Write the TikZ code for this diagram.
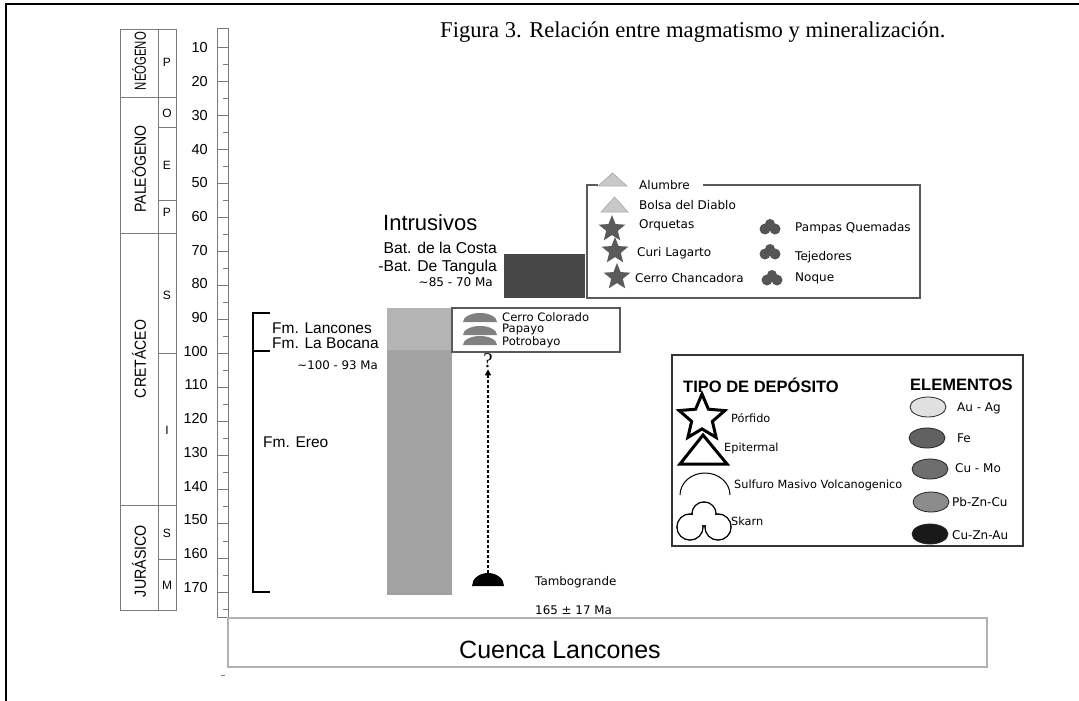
\documentclass[tikz,border=0pt]{standalone}
\usepackage{fontspec}
\setmainfont{Liberation Serif}
\setsansfont{Liberation Sans}
\newfontfamily\dejavu{DejaVu Sans}
\usetikzlibrary{shapes.geometric,arrows.meta}

\definecolor{rulegray}{HTML}{7A7A7A}
\definecolor{barlight}{HTML}{B4B4B4}
\definecolor{barmid}{HTML}{A2A2A2}
\definecolor{bardark}{HTML}{474747}
\definecolor{stargray}{HTML}{5A5A5A}
\definecolor{blobgray}{HTML}{555555}
\definecolor{trigray}{HTML}{C8C8C8}
\definecolor{hemigray}{HTML}{808080}
\newcommand{\fsz}[1]{\fontsize{#1}{#1}\selectfont}

\begin{document}
\begin{tikzpicture}[x=1pt,y=-1pt,
    period/.style={rotate=90, font=\sffamily\fsz{16}, inner sep=0pt},
    epoch/.style={font=\sffamily\fsz{12}, inner sep=0pt},
    small/.style={font=\dejavu\fsz{12}, anchor=west, inner sep=0pt},
    gstar/.style={star, star points=5, star point ratio=2.3, fill=stargray, minimum size=28pt, inner sep=0pt},
    elem/.style={ellipse, draw=black!85, line width=0.8pt, minimum width=36pt, minimum height=20pt, inner sep=0pt}]
    \useasboundingbox (0,0) rectangle (1079,701);
    % frame
    \draw[line width=2pt] (6,701) -- (6,4) -- (1079,4);
    \node[anchor=west, font=\fsz{22.6}, inner sep=0pt] (title) at (440,32) {Figura 3. Relación entre magmatismo y mineralización.};

    % time column
    \draw[rulegray, line width=0.8pt] (120,29) rectangle (176,610);
    \draw[rulegray, line width=0.8pt] (158,29) -- (158,610);
    \draw[rulegray, line width=0.8pt] (120,97) -- (176,97);
    \draw[rulegray, line width=0.8pt] (120,233) -- (176,233);
    \draw[rulegray, line width=0.8pt] (120,505) -- (176,505);
    \draw[rulegray, line width=0.8pt] (158,127) -- (176,127);
    \draw[rulegray, line width=0.8pt] (158,200) -- (176,200);
    \draw[rulegray, line width=0.8pt] (158,353) -- (176,353);
    \draw[rulegray, line width=0.8pt] (158,559) -- (176,559);
    \node[period] (neogeno) at (139,61) {\scalebox{0.71}[1]{NEÓGENO}};
    \node[period] (paleogeno) at (139,169) {\scalebox{0.88}[1]{PALEÓGENO}};
    \node[period] (cretaceo) at (139,359) {\scalebox{0.88}[1]{CRETÁCEO}};
    \node[period] (jurasico) at (139,561) {\scalebox{0.89}[1]{JURÁSICO}};
    \node[epoch] (plio) at (167,62) {P};
    \node[epoch] (oligo) at (167,113) {O};
    \node[epoch] (eoc) at (167,165) {E};
    \node[epoch] (paleo) at (167,212) {P};
    \node[epoch] (crsup) at (167,295) {S};
    \node[epoch] (crinf) at (167,430) {I};
    \node[epoch] (jusup) at (167,533) {S};
    \node[epoch] (jumed) at (167,585) {M};

    % age scale
    \draw[rulegray, line width=0.8pt] (217,28) rectangle (228,617);
    \foreach \k in {1,...,17} {
        \pgfmathsetmacro{\ty}{47+(\k-1)*34.06}
        \pgfmathsetmacro{\ly}{48+(\k-1)*33.7}
        \pgfmathtruncatemacro{\age}{\k*10}
        \draw[rulegray, line width=0.8pt] (217,\ty) -- (228,\ty);
        \draw[rulegray, line width=0.6pt] (223,\ty+17) -- (228,\ty+17);
        \node[anchor=east, font=\sffamily\fsz{14.5}, inner sep=0pt] (age\age) at (208,\ly) {\age};
    }
    \draw[rulegray, line width=0.6pt] (221,675) -- (225,675);

    % formations
    \draw[line width=1.5pt] (270,313) -| (253,592) -- (270,592);
    \draw[line width=1.5pt] (253,351) -- (270,351);
    \node[anchor=west, font=\sffamily\fsz{15.5}, inner sep=0pt] (lancones) at (272,328) {Fm. Lancones};
    \node[anchor=west, font=\sffamily\fsz{15.5}, inner sep=0pt] (bocana) at (272,343) {Fm. La Bocana};
    \node[anchor=east, font=\dejavu\fsz{11.8}, inner sep=0pt] (agefm) at (378,365) {\textasciitilde100 - 93 Ma};
    \node[anchor=west, font=\sffamily\fsz{15.5}, inner sep=0pt] (ereo) at (263,442) {Fm. Ereo};
    \fill[barlight] (387,308) rectangle (452,350);
    \fill[barmid] (387,350) rectangle (452,595);

    % intrusives
    \fill[bardark] (504,254) rectangle (585,298);
    \node[anchor=west, font=\sffamily\fsz{22}, inner sep=0pt] (intrusivos) at (383,223) {Intrusivos};
    \node[anchor=east, font=\sffamily\fsz{15.7}, inner sep=0pt] (costa) at (497,248) {Bat. de la Costa};
    \node[anchor=east, font=\sffamily\fsz{15.7}, inner sep=0pt] (tangula) at (497,267) {-Bat. De Tangula};
    \node[anchor=east, font=\dejavu\fsz{12}, inner sep=0pt] (ageint) at (493,282) {\textasciitilde85 - 70 Ma};

    % intrusive legend
    \draw[stargray, line width=1.5pt] (598,185) -- (587,185) -- (587,298) -- (920,298) -- (920,185) -- (703,185);
    \filldraw[fill=trigray, draw=trigray!80!black, line width=0.5pt] (598,186) -- (627,186) -- (612.5,173) -- cycle;
    \filldraw[fill=trigray, draw=trigray!80!black, line width=0.5pt] (601,212) -- (628,212) -- (614.5,197) -- cycle;
    \node[small] (alumbre) at (639,185) {Alumbre};
    \node[small] (bolsa) at (639,205) {Bolsa del Diablo};
    \node[gstar] (s1) at (612,229) {};
    \node[gstar] (s2) at (615,251) {};
    \node[gstar] (s3) at (617,277) {};
    \node[small] (orquetas) at (639,225) {Orquetas};
    \node[small] (curi) at (637,253) {Curi Lagarto};
    \node[small] (chancadora) at (635,278) {Cerro Chancadora};
    \foreach \bx/\by in {770/227, 770/252, 772/278} {
        \fill[blobgray] (\bx-5,\by+2) circle[radius=5.5pt] (\bx+5,\by+2) circle[radius=5.5pt] (\bx,\by-3) circle[radius=5pt];
    }
    \node[small] (pampas) at (795,228) {Pampas Quemadas};
    \node[small] (tejedores) at (795,257) {Tejedores};
    \node[small] (noque) at (795,278) {Noque};

    % vms box
    \draw[stargray, line width=1.2pt] (452,308) rectangle (620,352);
    \foreach \hy in {322, 335, 345} {
        \fill[hemigray] (463,\hy) arc[start angle=180, end angle=0, x radius=17pt, y radius=9pt] -- cycle;
    }
    \node[small, font=\dejavu\fsz{11.6}] (colorado) at (502,317) {Cerro Colorado};
    \node[small, font=\dejavu\fsz{11.6}] (papayo) at (502,329) {Papayo};
    \node[small, font=\dejavu\fsz{11.6}] (potrobayo) at (502,342) {Potrobayo};

    % tambogrande
    \fill[black] (472,586) arc[start angle=180, end angle=0, x radius=16pt, y radius=13pt] -- cycle;
    \coordinate (tambo) at (488,573);
    \node[font=\fsz{21}, inner sep=0pt] (qmark) at (488,361) {?};
    \draw[line width=1.8pt, dash pattern=on 3pt off 2pt, -{Triangle[length=6pt, width=6pt]}] (tambo) -- ([yshift=-1pt]qmark.south);
    \node[small, font=\dejavu\fsz{11.9}] (tambogrande) at (535,582) {Tambogrande};
    \node[small, font=\dejavu\fsz{11.9}] (agetambo) at (535,610) {165 ± 17 Ma};

    % deposit legend
    \draw[black!80, line width=1.3pt] (672,355) rectangle (1023,546);
    \node[anchor=west, font=\sffamily\bfseries\fsz{16.5}, inner sep=0pt] (tipo) at (683,385) {TIPO DE DEPÓSITO};
    \node[anchor=west, font=\sffamily\bfseries\fsz{16.5}, inner sep=0pt] (elementos) at (910,385) {ELEMENTOS};
    \draw[line width=3pt, line join=miter] (680,464) -- (727,464) -- (703,435) -- cycle;
    \node[star, star points=5, star point ratio=2.2, draw, line width=3pt, fill=white, minimum size=48pt, inner sep=0pt] (porfstar) at (702,418) {};
    \draw[line width=1pt] (680,495) arc[start angle=180, end angle=0, x radius=25pt, y radius=22pt];
    \foreach \cx/\cy/\r in {690/527/13, 718/527/13, 704/514/12} {
        \draw[line width=1.5pt] (\cx,\cy) circle[radius=\r pt];
    }
    \foreach \cx/\cy/\r in {690/527/13, 718/527/13, 704/514/12} {
        \fill[white] (\cx,\cy) circle[radius=\r pt - 0.75pt];
    }
    \node[small, font=\dejavu\fsz{11.3}] (porfido) at (731,418) {Pórfido};
    \node[small, font=\dejavu\fsz{11.3}] (epitermal) at (724,448) {Epitermal};
    \node[small, font=\dejavu\fsz{11.3}] (sulfuro) at (734,485) {Sulfuro Masivo Volcanogenico};
    \node[small, font=\dejavu\fsz{11.3}] (skarn) at (731,521) {Skarn};
    \node[elem, fill=black!12] (auag) at (928,407) {};
    \node[elem, fill=black!62] (fe) at (927,438) {};
    \node[elem, fill=black!57] (cumo) at (930,469) {};
    \node[elem, fill=black!45] (pbzncu) at (931,502) {};
    \node[elem, fill=black!90] (cuznau) at (930,534) {};
    \node[small] (tauag) at (957,408) {Au - Ag};
    \node[small] (tfe) at (957,438) {Fe};
    \node[small] (tcumo) at (955,468) {Cu - Mo};
    \node[small] (tpbzncu) at (952,502) {Pb-Zn-Cu};
    \node[small] (tcuznau) at (952,535) {Cu-Zn-Au};

    % basin
    \draw[black!30, line width=1.2pt] (228,618) rectangle (987,667);
    \node[font=\sffamily\fsz{25}, inner sep=0pt] (cuenca) at (560,650) {Cuenca Lancones};
\end{tikzpicture}
\end{document}
